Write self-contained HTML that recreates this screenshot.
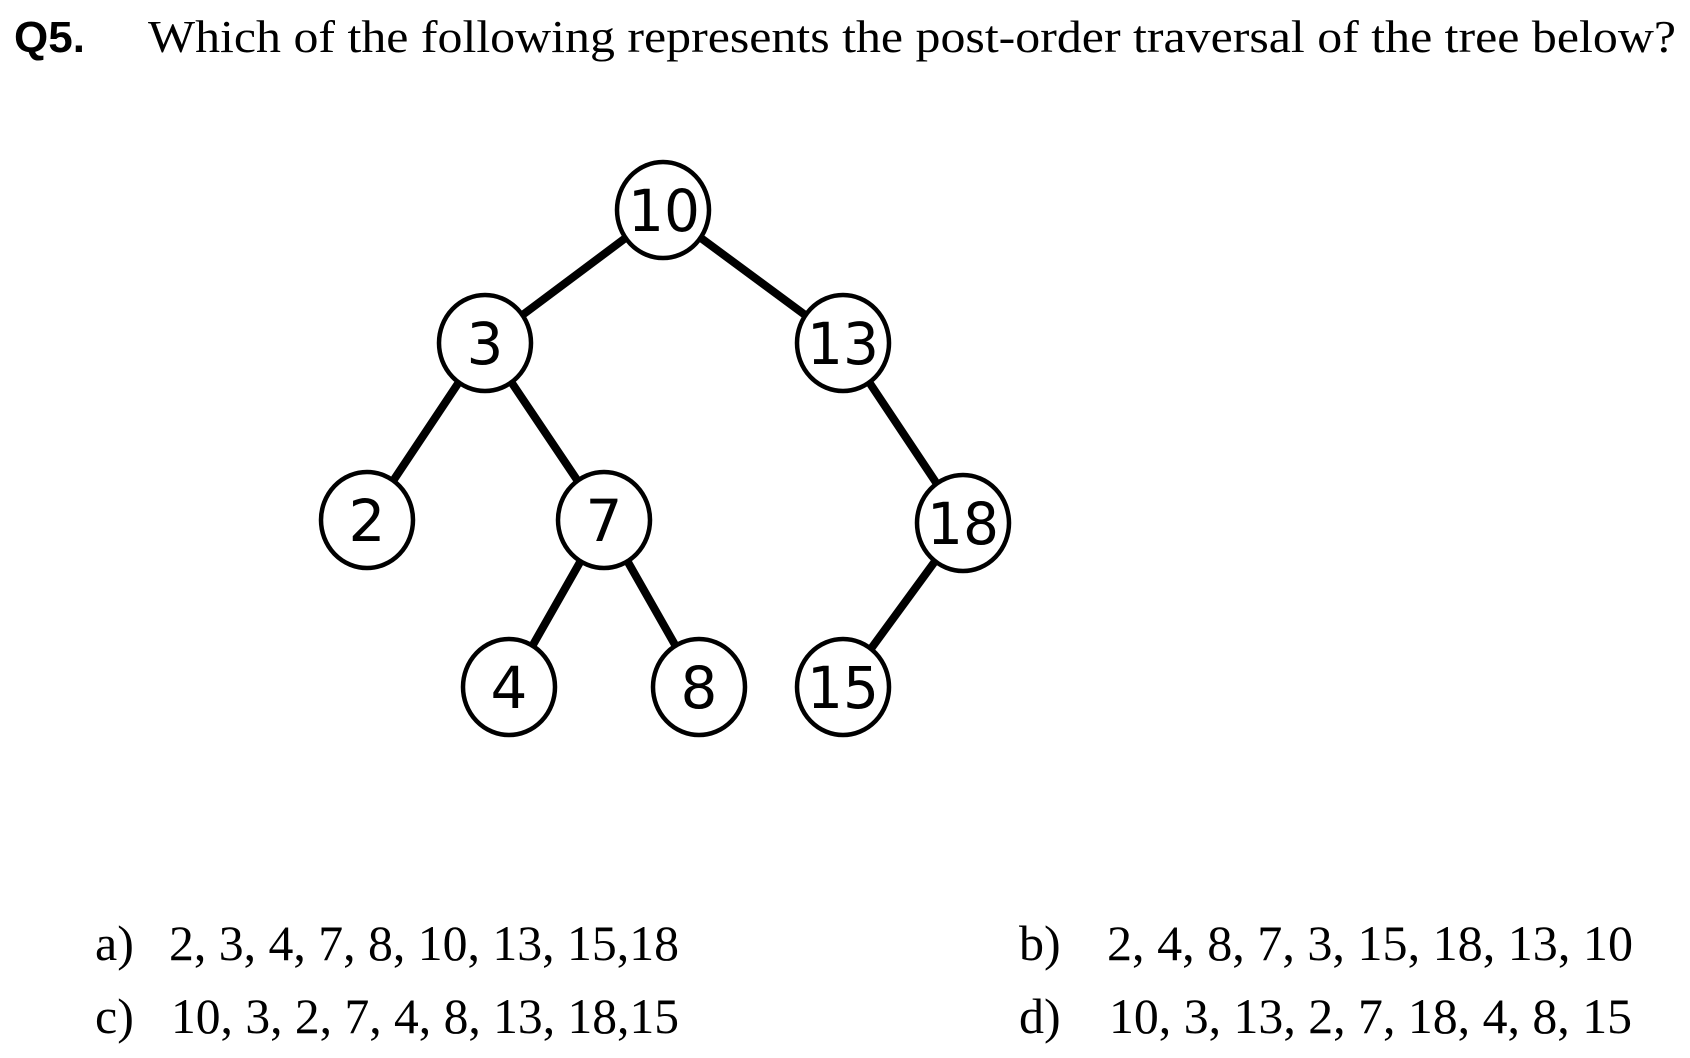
<!DOCTYPE html>
<html><head><style>
html,body{margin:0;padding:0;background:#fff;width:1690px;height:1058px;overflow:hidden}
</style></head><body>
<svg width="1690" height="1058" viewBox="0 0 1690 1058" xmlns="http://www.w3.org/2000/svg">
<rect width="1690" height="1058" fill="#fff"/>
<text x="14" y="52" font-family="Liberation Sans, sans-serif" font-weight="bold" font-size="44">Q5.</text>
<text x="148" y="52" font-family="Liberation Serif, serif" font-size="46" textLength="1528" lengthAdjust="spacingAndGlyphs">Which of the following represents the post-order traversal of the tree below?</text>
<g stroke="#000" stroke-width="8" stroke-linecap="round">
<line x1="663" y1="210" x2="485" y2="343"/>
<line x1="663" y1="210" x2="843" y2="343"/>
<line x1="485" y1="343" x2="367" y2="520"/>
<line x1="485" y1="343" x2="604" y2="520"/>
<line x1="843" y1="343" x2="963" y2="523"/>
<line x1="604" y1="520" x2="509" y2="687"/>
<line x1="604" y1="520" x2="699" y2="687"/>
<line x1="963" y1="523" x2="843" y2="687"/>
</g>
<g fill="#fff" stroke="#000" stroke-width="4.5">
<ellipse cx="663" cy="210" rx="46" ry="48"/>
<ellipse cx="485" cy="343" rx="46" ry="48"/>
<ellipse cx="843" cy="343" rx="46" ry="48"/>
<ellipse cx="367" cy="520" rx="46" ry="48"/>
<ellipse cx="604" cy="520" rx="46" ry="48"/>
<ellipse cx="963" cy="523" rx="46" ry="48"/>
<ellipse cx="509" cy="687" rx="46" ry="48"/>
<ellipse cx="699" cy="687" rx="46" ry="48"/>
<ellipse cx="843" cy="687" rx="46" ry="48"/>
</g>
<g font-family="DejaVu Sans, sans-serif" font-size="58" text-anchor="middle">
<text x="664" y="231" textLength="72" lengthAdjust="spacingAndGlyphs">10</text>
<text x="485" y="364">3</text>
<text x="843" y="364" textLength="72" lengthAdjust="spacingAndGlyphs">13</text>
<text x="367" y="541">2</text>
<text x="604" y="541">7</text>
<text x="963" y="544" textLength="72" lengthAdjust="spacingAndGlyphs">18</text>
<text x="509" y="708">4</text>
<text x="699" y="708">8</text>
<text x="843" y="708" textLength="72" lengthAdjust="spacingAndGlyphs">15</text>
</g>
<g font-family="Liberation Serif, serif" font-size="50">
<text x="95" y="960">a)</text>
<text x="169" y="960" textLength="510" lengthAdjust="spacingAndGlyphs">2, 3, 4, 7, 8, 10, 13, 15,18</text>
<text x="95" y="1033">c)</text>
<text x="171" y="1033" textLength="508" lengthAdjust="spacingAndGlyphs">10, 3, 2, 7, 4, 8, 13, 18,15</text>
<text x="1019" y="960">b)</text>
<text x="1107" y="960" textLength="526" lengthAdjust="spacingAndGlyphs">2, 4, 8, 7, 3, 15, 18, 13, 10</text>
<text x="1019" y="1033">d)</text>
<text x="1109" y="1033" textLength="523" lengthAdjust="spacingAndGlyphs">10, 3, 13, 2, 7, 18, 4, 8, 15</text>
</g>
</svg>
</body></html>
